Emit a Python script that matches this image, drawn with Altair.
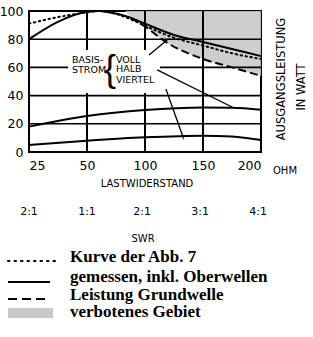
import json
import altair as alt
import pandas as pd
import numpy as np

# ---------------- data ----------------
ohm_ticks = [25, 50, 100, 150, 200]
ohm_labels = ["25", "50", "100", "150", "200"]
swr_labels = ["2:1", "1:1", "2:1", "3:1", "4:1"]
y_ticks = [0, 20, 40, 60, 80, 100]
grid_ohm = [50, 100, 150]
grid_w = [20, 40, 60, 80]

voll_ohm = [25, 37, 50, 60, 70, 85, 100, 125, 150, 175, 200]
voll_w = [80, 92, 99.5, 100, 99, 96, 91, 83, 78, 73, 68]
abb7_ohm = [25, 37, 50, 60, 70, 85, 100, 125, 150, 175, 200]
abb7_w = [91, 95.5, 99, 100, 99, 95, 89.5, 81, 75.5, 70, 66]
grund_ohm = [88, 100, 118, 150, 175, 200]
grund_w = [95, 89, 78, 66, 60, 54]
halb_ohm = [25, 50, 100, 150, 175, 200]
halb_w = [18, 25.5, 29.8, 31.6, 31.4, 30]
viertel_ohm = [25, 50, 100, 150, 175, 200]
viertel_w = [5, 8, 10.4, 11.6, 11, 8.5]
shade_ohm = [83, 88, 100, 118, 150, 175, 200]
shade_low = [100, 95, 89, 78, 66, 60, 54]
shade_top = [100, 100, 100, 100, 100, 100, 100]

arrow_from_ohm = [103.5, 110.5, 118]
arrow_from_w = [68.8, 58.2, 44.7]
arrow_to_ohm = [119, 175, 132.8]
arrow_to_w = [79.4, 31.9, 10.6]
arrow_angle = [50, 116, 160]

legend_labels = ["Kurve der Abb. 7", "gemessen, inkl. Oberwellen",
                 "Leistung Grundwelle", "verbotenes Gebiet"]

SANS = "DejaVu Sans, sans-serif"
SERIF = "Liberation Serif, DejaVu Serif, serif"


def pos(o):
    # the printed resistance axis is spaced evenly per tick
    return np.interp(o, ohm_ticks, list(range(len(ohm_ticks))))


def curve(o, w):
    return pd.DataFrame({"p": pos(o), "w": w})


xscale = alt.Scale(domain=[0, 4], nice=False, zero=False)
yscale = alt.Scale(domain=[0, 100], nice=False, zero=False)

xaxis = alt.Axis(values=[0, 1, 2, 3, 4],
                 labelExpr=json.dumps(ohm_labels) + "[datum.value]",
                 ticks=False, domain=False, grid=False, title=None,
                 labelFont=SANS, labelFontSize=12.5, labelPadding=7,
                 labelColor="black", labelOverlap=False)
yaxis = alt.Axis(values=y_ticks, ticks=False, domain=False, grid=False, title=None,
                 labelFont=SANS, labelFontSize=12.5, labelPadding=6,
                 labelColor="black", labelOverlap=False, labelBound=False)


def X(f="p:Q"):
    return alt.X(f, scale=xscale, axis=xaxis)


def Y(f="w:Q"):
    return alt.Y(f, scale=yscale, axis=yaxis)


# shaded forbidden area
shade_df = pd.DataFrame({"p": pos(shade_ohm), "w": shade_low, "w2": shade_top})
shade = alt.Chart(shade_df).mark_area(color="#c9c9c9", opacity=0.9,
                                      interpolate="monotone").encode(
    x=X(), y=Y(), y2="w2:Q")

# grid
vgrid = alt.Chart(pd.DataFrame({"p": pos(grid_ohm)})).mark_rule(
    color="black", strokeWidth=2).encode(x=X())
hgrid = alt.Chart(pd.DataFrame({"w": grid_w})).mark_rule(
    color="black", strokeWidth=1.6).encode(y=Y())

# white patch behind the inner labels
patch = alt.Chart(pd.DataFrame({"x": [39], "x2": [131], "y": [39], "y2": [82]})).mark_rect(
    color="white").encode(x=alt.X("x:Q", scale=None), x2="x2:Q",
                          y=alt.Y("y:Q", scale=None), y2="y2:Q")

line_style = dict(color="black", strokeWidth=2, interpolate="monotone")
voll = alt.Chart(curve(voll_ohm, voll_w)).mark_line(**line_style).encode(x=X(), y=Y())
abb7 = alt.Chart(curve(abb7_ohm, abb7_w)).mark_line(
    strokeDash=[1.5, 3.5], strokeCap="round", **line_style).encode(x=X(), y=Y())
grund = alt.Chart(curve(grund_ohm, grund_w)).mark_line(
    strokeDash=[8, 4], **line_style).encode(x=X(), y=Y())
halb = alt.Chart(curve(halb_ohm, halb_w)).mark_line(**line_style).encode(x=X(), y=Y())
viertel = alt.Chart(curve(viertel_ohm, viertel_w)).mark_line(**line_style).encode(x=X(), y=Y())

arrow_df = pd.DataFrame({"p": pos(arrow_from_ohm), "w": arrow_from_w,
                         "p2": pos(arrow_to_ohm), "w2": arrow_to_w,
                         "ang": arrow_angle})
arrows = alt.Chart(arrow_df).mark_rule(color="black", strokeWidth=1.3).encode(
    x=X(), y=Y(), x2="p2:Q", y2="w2:Q")
heads = alt.Chart(arrow_df).mark_point(shape="wedge", filled=True, color="black",
                                       size=45, opacity=1).encode(
    x=X("p2:Q"), y=Y("w2:Q"), angle=alt.Angle("ang:Q", scale=None))

# texts (pixel positions relative to plot origin)
def texts(rows, **kw):
    df = pd.DataFrame(rows, columns=["t", "x", "y"])
    return alt.Chart(df).mark_text(color="black", **kw).encode(
        x=alt.X("x:Q", scale=None), y=alt.Y("y:Q", scale=None), text="t:N")

inner = texts([["BASIS-", 43, 52], ["STROM", 43, 62],
               ["VOLL", 87, 52], ["HALB", 87, 61], ["VIERTEL", 87, 72]],
              font=SANS, fontSize=9.5, align="left", baseline="alphabetic")
brace = texts([["{", 81, 59]], font="Liberation Sans, sans-serif", fontSize=36,
              align="center", baseline="middle")

outer = texts([["LASTWIDERSTAND", 118, 176], ["SWR", 114, 231]],
              font=SANS, fontSize=10, align="center", baseline="alphabetic")
ohm_txt = texts([["OHM", 244, 163]], font=SANS, fontSize=10, align="left",
                baseline="alphabetic")
right1 = texts([["AUSGANGSLEISTUNG", 253, 68]], font=SANS, fontSize=11.5,
               align="center", baseline="middle", angle=270)
right2 = texts([["IN WATT", 273, 76]], font=SANS, fontSize=11.5,
               align="center", baseline="middle", angle=270)

swr_df = pd.DataFrame({"p": pos(ohm_ticks) - np.array([0, 0, 0.05, 0.05, 0.05]),
                       "t": swr_labels})
swr = alt.Chart(swr_df).mark_text(font=SANS, fontSize=11, baseline="middle",
                                  color="black").encode(
    x=X(), y=alt.value(201), text="t:N")

# custom legend
leg_text = texts([[legend_labels[0], 41, 251], [legend_labels[1], 41, 271],
                  [legend_labels[2], 41, 289], [legend_labels[3], 41, 306]],
                 font=SERIF, fontSize=17, fontWeight="bold", align="left",
                 baseline="alphabetic")

def leg_rule(y, x2, **kw):
    df = pd.DataFrame({"x": [-21], "x2": [x2], "y": [y]})
    return alt.Chart(df).mark_rule(color="black", **kw).encode(
        x=alt.X("x:Q", scale=None), x2="x2:Q", y=alt.Y("y:Q", scale=None))

leg_dot = leg_rule(250, 28, strokeWidth=2, strokeDash=[1.5, 5], strokeCap="round")
leg_solid = leg_rule(271, 21, strokeWidth=1.8)
leg_dash = leg_rule(288, 21, strokeWidth=1.8, strokeDash=[9, 5])
leg_box = alt.Chart(pd.DataFrame({"x": [-21], "x2": [24], "y": [297], "y2": [307]})).mark_rect(
    color="#c9c9c9").encode(x=alt.X("x:Q", scale=None), x2="x2:Q",
                            y=alt.Y("y:Q", scale=None), y2="y2:Q")

chart = alt.layer(
    shade, vgrid, hgrid, patch, voll, abb7, grund, halb, viertel, arrows, heads,
    inner, brace, outer, ohm_txt, right1, right2, swr,
    leg_text, leg_dot, leg_solid, leg_dash, leg_box
).properties(
    width=232, height=141,
    autosize=alt.AutoSizeParams(type="none"),
    padding={"left": 29, "top": 11, "right": 52, "bottom": 185},
    background="white",
).configure_view(stroke="black", strokeWidth=2)

chart.save("out.html", embed_options={"renderer": "svg", "actions": False})
